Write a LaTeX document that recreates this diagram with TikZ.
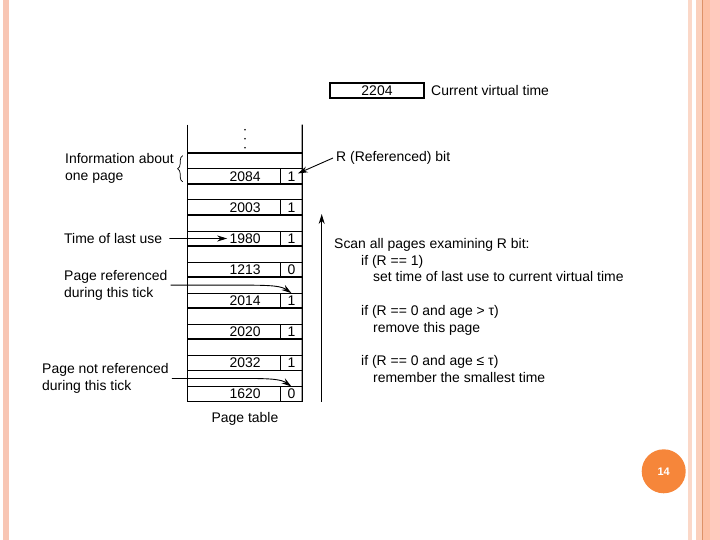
\documentclass[tikz,border=0pt]{standalone}
\usepackage{fontspec}
\setmainfont{Liberation Sans}
\usetikzlibrary{positioning}
\usetikzlibrary{arrows.meta}
\usetikzlibrary{decorations.pathreplacing}

\definecolor{edgeleft}{RGB}{248,198,180}
\definecolor{edgepale}{RGB}{251,216,200}
\definecolor{edgepeach}{RGB}{251,208,188}
\definecolor{edgeline}{RGB}{222,146,104}
\definecolor{edgedeep}{RGB}{253,192,165}
\definecolor{edgepink}{RGB}{255,202,190}
\definecolor{pagenum}{RGB}{246,134,58}

\tikzset{
  cell/.style={draw, line width=0.9pt, inner sep=0pt, outer sep=0pt, font=\fontsize{14}{16}\selectfont},
  gaprow/.style={cell, minimum width=114.6bp, minimum height=16.1bp},
  timecell/.style={cell, minimum width=92.9bp, minimum height=15bp, execute at begin node={\hspace*{22bp}}},
  bitcell/.style={cell, minimum width=21.7bp, minimum height=15bp},
  lbl/.style={font=\fontsize{14}{16.8}\selectfont, align=left, inner sep=3bp},
  ptr/.style={-{Stealth[length=10bp,width=6bp]}, line width=0.9pt},
  rule/.style={line width=1.8pt},
  wall/.style={line width=1.2pt}
}

\begin{document}
\begin{tikzpicture}[x=1bp, y=1bp]
	\useasboundingbox (0,0) rectangle (720,-540);
	% Slide edges
	\fill[edgeleft] (3,0) rectangle (9,-540);
	\fill[edgepale] (688,0) rectangle (692,-540);
	\fill[edgepeach] (696,0) rectangle (702,-540);
	\fill[edgedeep] (703,0) rectangle (710,-540);
	\fill[edgepink] (710,0) rectangle (720,-540);
	\fill[edgeline] (702,0) rectangle (703,-540);
	
	% Current virtual time
	\node [cell, line width=1.1pt, minimum width=94bp, minimum height=15bp] (vtime) at (377,-90.5) {2204};
	\node [lbl, right=4bp of vtime] (vtimetxt) {Current virtual time};
	
	% Page table, entries 1 to 4
	\node [gaprow, anchor=north west] (g1) at (187.7,-152.7) {};
	\node [timecell, below right=0pt and 0pt of g1.south west] (t1) {2084};
	\node [bitcell, right=0pt of t1] (r1) {1};
	\node [gaprow, below right=0pt and 0pt of t1.south west] (g2) {};
	\node [timecell, below right=0pt and 0pt of g2.south west] (t2) {2003};
	\node [bitcell, right=0pt of t2] (r2) {1};
	\node [gaprow, below right=0pt and 0pt of t2.south west] (g3) {};
	\node [timecell, below right=0pt and 0pt of g3.south west] (t3) {1980};
	\node [bitcell, right=0pt of t3] (r3) {1};
	\node [gaprow, below right=0pt and 0pt of t3.south west] (g4) {};
	\node [timecell, below right=0pt and 0pt of g4.south west] (t4) {1213};
	\node [bitcell, right=0pt of t4] (r4) {0};
	
	% Entries 5 to 8
	\node [gaprow, below right=0pt and 0pt of t4.south west] (g5) {};
	\node [timecell, below right=0pt and 0pt of g5.south west] (t5) {2014};
	\node [bitcell, right=0pt of t5] (r5) {1};
	\node [gaprow, below right=0pt and 0pt of t5.south west] (g6) {};
	\node [timecell, below right=0pt and 0pt of g6.south west] (t6) {2020};
	\node [bitcell, right=0pt of t6] (r6) {1};
	\node [gaprow, below right=0pt and 0pt of t6.south west] (g7) {};
	\node [timecell, below right=0pt and 0pt of g7.south west] (t7) {2032};
	\node [bitcell, right=0pt of t7] (r7) {1};
	\node [gaprow, below right=0pt and 0pt of t7.south west] (g8) {};
	\node [timecell, below right=0pt and 0pt of g8.south west] (t8) {1620};
	\node [bitcell, right=0pt of t8] (r8) {0};
	\node [lbl, below=8bp of t8.south -| g8.south] (ptab) {Page table};
	
	% Heavy rules and walls
	\draw [rule] (g1.north west) -- (g1.north east);
	\draw [rule] (g2.north west) -- (g2.north east);
	\draw [rule] (g3.north west) -- (g3.north east);
	\draw [rule] (g4.north west) -- (g4.north east);
	\draw [rule] (g5.north west) -- (g5.north east);
	\draw [rule] (g6.north west) -- (g6.north east);
	\draw [rule] (g7.north west) -- (g7.north east);
	\draw [rule] (g8.north west) -- (g8.north east);
	\draw [rule] (t8.south west) -- (r8.south east);
	\draw [wall] ([yshift=28bp]g1.north west) -- (t8.south west);
	\draw [wall] ([yshift=28bp]g1.north east) -- (r8.south east);
	\foreach \dy in {5,14,23} \fill ([yshift=\dy bp]g1.north) circle (0.9bp);
	
	% Labels on the left
	\node [lbl, anchor=west] (info) at (62,-168.5) {Information about\\one page};
	\node [lbl, anchor=west] (lastuse) at (61,-238.5) {Time of last use};
	\node [lbl, anchor=west] (pageref) at (61,-285.15) {Page referenced\\during this tick};
	\node [lbl, anchor=west] (pagenot) at (39,-378.45) {Page not referenced\\during this tick};
	\draw [decorate, decoration={brace, amplitude=5bp}, line width=0.7pt] ([xshift=-5bp, yshift=2bp]t1.south west) -- ([xshift=-5bp, yshift=-3bp]g1.north west);
	
	% Labels on the right
	\node [lbl, anchor=west] (rbit) at (333,-158) {R (Referenced) bit};
	\node [lbl, anchor=north west] (scan) at (331,-235) {Scan all pages examining R bit:\\
		\hspace*{27bp}if (R == 1)\\
		\hspace*{39bp}set time of last use to current virtual time\\[16.8bp]
		\hspace*{27bp}if (R == 0 and age > τ)\\
		\hspace*{39bp}remove this page\\[16.8bp]
		\hspace*{27bp}if (R == 0 and age ≤ τ)\\
		\hspace*{39bp}remember the smallest time};
	\coordinate (scanbot) at (321.7,-401.5);
	\coordinate (scantop) at (321.7,-214);
	
	% Connections
	\draw [ptr, shorten >=7bp] (rbit.west) -- (r1.center);
	\draw [ptr, shorten <=4bp, shorten >=7bp] (lastuse.east) -- (t3.center);
	\draw [ptr] (pageref.east) -- (pageref.east -| g5.center) .. controls +(28,0) and +(-10,7) .. (r5.north);
	\draw [ptr] (pagenot.east) -- (pagenot.east -| g8.center) .. controls +(28,0) and +(-10,7) .. (r8.north);
	\draw [ptr] (scanbot) -- (scantop);
	
	% Slide number
	\node [circle, fill=pagenum, minimum size=44bp, inner sep=0pt, text=white, font=\bfseries\fontsize{11}{13}\selectfont] (pnum) at (663.7,-471.3) {14};
\end{tikzpicture}
\end{document}
